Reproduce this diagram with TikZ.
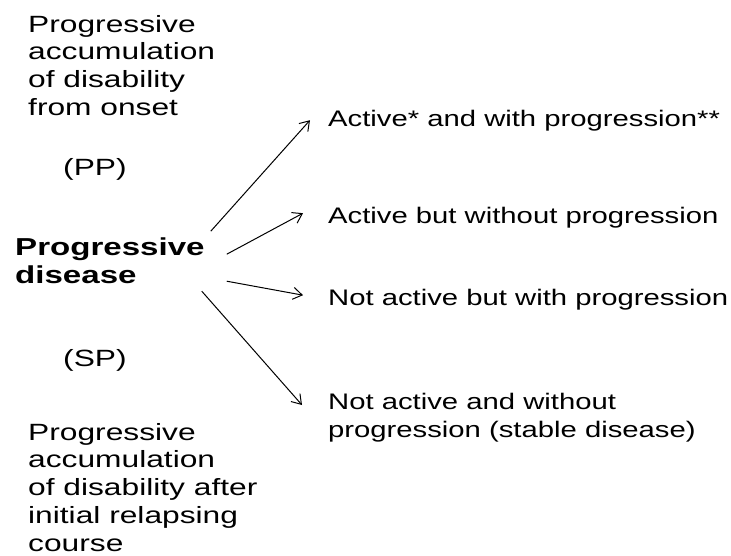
\documentclass[tikz,border=0pt]{standalone}
\usepackage{fontspec}
\setmainfont{Liberation Sans}
\newfontfamily\leftfont{Liberation Sans}[FakeStretch=1.35]
\newfontfamily\rightfont{Liberation Sans}[FakeStretch=1.3]
\usetikzlibrary{arrows.meta, calc}

\begin{document}
\begin{tikzpicture}[
  x=1pt, y=-1pt,
  note/.style={inner sep=0pt, align=left, font=\leftfont\fontsize{23.5}{27.7}\selectfont},
  course/.style={note, anchor=base west},
  disease/.style={note, font=\leftfont\bfseries\fontsize{24.5}{28}\selectfont},
  branch/.style={inner sep=0pt, align=left, font=\rightfont\fontsize{22.5}{28}\selectfont},
  arrow/.style={-{Straight Barb[length=9pt, width=12pt]}, line width=1pt}
]
  \useasboundingbox (0,0) rectangle (731,555);

  % Texte de gauche
  \node[note, anchor=north west] (onset) at (28,15) {Progressive\\accumulation\\of disability\\from onset};
  \node[course] (pp) at (63,175) {(PP)};
  \node[disease, anchor=north west] (pd) at (15,238) {Progressive\\disease};
  \node[course] (sp) at (63,366) {(SP)};
  \node[note, anchor=north west] (relapse) at (28,423) {Progressive\\accumulation\\of disability after\\initial relapsing\\course};

  % Branches
  \node[branch, anchor=base west] (t1) at (328,126) {Active* and with progression**};
  \node[branch, anchor=base west] (t2) at (328,223) {Active but without progression};
  \node[branch, anchor=base west] (t3) at (328,305) {Not active but with progression};
  \node[branch, anchor=north west] (t4) at (328,393) {Not active and without\\progression (stable disease)};

  % Flèches
  \draw[arrow] ($(pd.east)+(6,-30)$) -- ($(t1.west)+(-18,0)$);
  \draw[arrow] ($(pd.east)+(22,-7)$) -- ($(t2.west)+(-25,-4)$);
  \draw[arrow] ($(pd.east)+(22,20)$) -- ($(t3.west)+(-25,-4)$);
  \draw[arrow] ($(pd.east)+(-3,30)$) -- ($(t4.north west)+(-26,12)$);

\end{tikzpicture}
\end{document}
